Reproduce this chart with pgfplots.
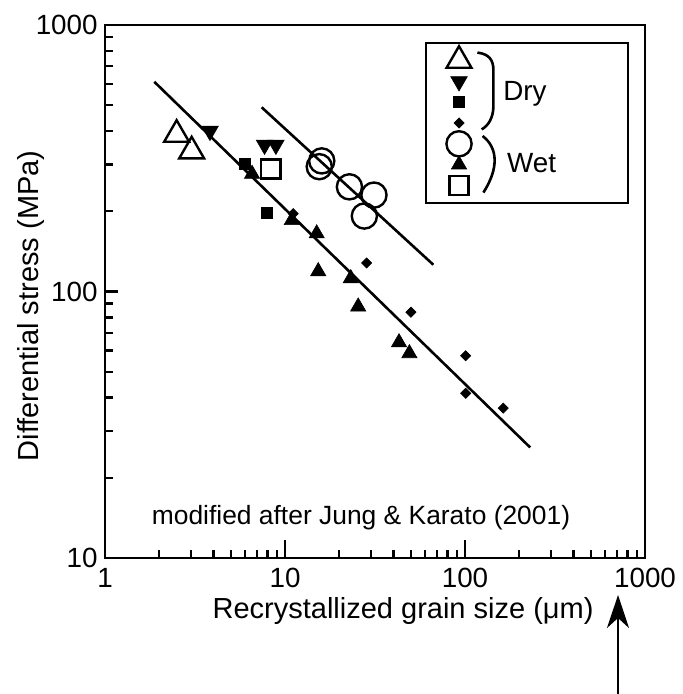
\documentclass[border=0pt]{standalone}
\usepackage{fontspec}
\setmainfont{Liberation Sans}
\usepackage{pgfplots}
\pgfplotsset{compat=1.18}
\usetikzlibrary{arrows.meta}

\begin{document}
\begin{tikzpicture}
\useasboundingbox (-52.5pt,-68pt) rectangle (288.5pt,279pt);
\begin{axis}[
  name=ax,
  xmode=log, ymode=log,
  scale only axis, width=270pt, height=266.5pt,
  xmin=1, xmax=1000, ymin=10, ymax=1000,
  axis line style={line width=1.35pt},
  tick pos=left, tick align=inside,
  major tick length=6.5pt, minor tick length=4pt,
  every tick/.style={black, line width=1.2pt},
  xtick={1,10,100,1000}, xticklabels={1,10,100,1000},
  ytick={10,100,1000}, yticklabels={10,100,1000},
  extra x ticks={10,100}, extra x tick labels={},
  extra x tick style={major tick length=8.8pt},
  /pgf/number format/assume math mode=true,
  ticklabel style={font=\fontsize{13.9}{16}\selectfont},
  xticklabel style={inner sep=0pt, yshift=-5pt},
  yticklabel style={inner sep=0pt, xshift=-3.5pt},
  xlabel={Recrystallized grain size (μm)},
  ylabel={Differential stress (MPa)},
  label style={font=\fontsize{14.5}{17}\selectfont},
  xlabel style={at={(axis description cs:0.552,-0.1133)}, anchor=base},
  ylabel style={at={(axis description cs:-0.124,0.473)}, anchor=base},
  clip=false,
  legend style={at={(axis description cs:0.9704,0.9681)}, anchor=north east,
    draw=black, line width=1pt, fill=white, inner xsep=0pt, inner ysep=3.6pt,
    row sep=0pt, column sep=0pt,
    nodes={inner sep=0pt, text depth=0pt, draw=none, font=\fontsize{1}{1}\selectfont}},
  legend image code/.code={%
    \begin{pgfinterruptboundingbox}
    \draw[#1] plot coordinates {(0pt,0pt)};
    \end{pgfinterruptboundingbox}
    \path[draw=none, fill=none] (-16.5pt,-5.2pt) rectangle (8pt,5.2pt);
  },
]
% regression lines
\addplot[black, line width=1.3pt, forget plot] coordinates {(1.88,612) (230,26.0)};
\addplot[black, line width=1.3pt, forget plot] coordinates {(7.42,491) (66.7,126)};

% Dry
\addplot[only marks, black, mark=triangle, mark size=7.2pt, mark options={line width=1.2pt, fill=none}]
  coordinates {(2.50,388) (3.03,336)};
\addlegendentry{\hspace*{76.5pt}}
\addplot[only marks, black, mark=triangle*, mark size=4.8pt, mark options={rotate=180, line width=0.3pt, fill=black}]
  coordinates {(3.83,400) (7.7,355) (8.9,355)};
\addlegendentry{\hspace*{76.5pt}}
\addplot[only marks, black, mark=square*, mark size=2.8pt, mark options={line width=0.3pt, fill=black}]
  coordinates {(6.0,301) (7.91,198)};
\addlegendentry{\hspace*{76.5pt}}
\addplot[only marks, black, mark=square*, mark size=1.8pt, mark options={rotate=45, line width=0.3pt, fill=black}]
  coordinates {(11.1,196) (28.4,128) (50.1,83.6) (100.9,57.4) (100.9,41.5) (163,36.5)};
\addlegendentry{\hspace*{76.5pt}}
% Wet
\addplot[only marks, black, mark=o, mark size=6.3pt, mark options={line width=1.2pt, fill=none}]
  coordinates {(16.0,309) (15.5,294) (22.8,247) (31.2,230) (27.6,192)};
\addlegendentry{\hspace*{76.5pt}}
\addplot[only marks, black, mark=triangle*, mark size=4.4pt, mark options={line width=0.3pt, fill=black}]
  coordinates {(6.56,276) (10.9,185) (15.0,165) (15.3,119) (23.2,112) (25.5,87.7) (43.0,64.4) (49.1,58.6)};
\addlegendentry{\hspace*{76.5pt}}
\addplot[only marks, black, mark=square, mark size=4.8pt, mark options={line width=1.2pt, fill=none}]
  coordinates {(8.33,288)};
\addlegendentry{\hspace*{76.5pt}}
\end{axis}

% braces and group labels of the legend
\draw[line width=1.3pt] (186.2pt,252.7pt) .. controls (192pt,252pt) and (194.2pt,249pt) .. (194.2pt,244pt)
  -- (194.2pt,226pt) .. controls (194.2pt,220pt) and (191.5pt,216pt) .. (188.3pt,214.3pt);
\draw[line width=1.3pt] (188.8pt,211pt) .. controls (196.5pt,205pt) and (197pt,195pt) .. (189.2pt,182.7pt);
\node[font=\fontsize{13.9}{16}\selectfont] at (210pt,232.3pt) {Dry};
\node[font=\fontsize{13.9}{16}\selectfont] at (213.3pt,197.3pt) {Wet};

\node[font=\fontsize{13.2}{15}\selectfont] at (128pt,20pt) {modified after Jung \& Karato (2001)};

\draw[line width=1.2pt, -{Stealth[length=16.5pt, width=11pt, inset=5pt]}] (256.5pt,-68pt) -- (256.5pt,-18.5pt);
\end{tikzpicture}
\end{document}
